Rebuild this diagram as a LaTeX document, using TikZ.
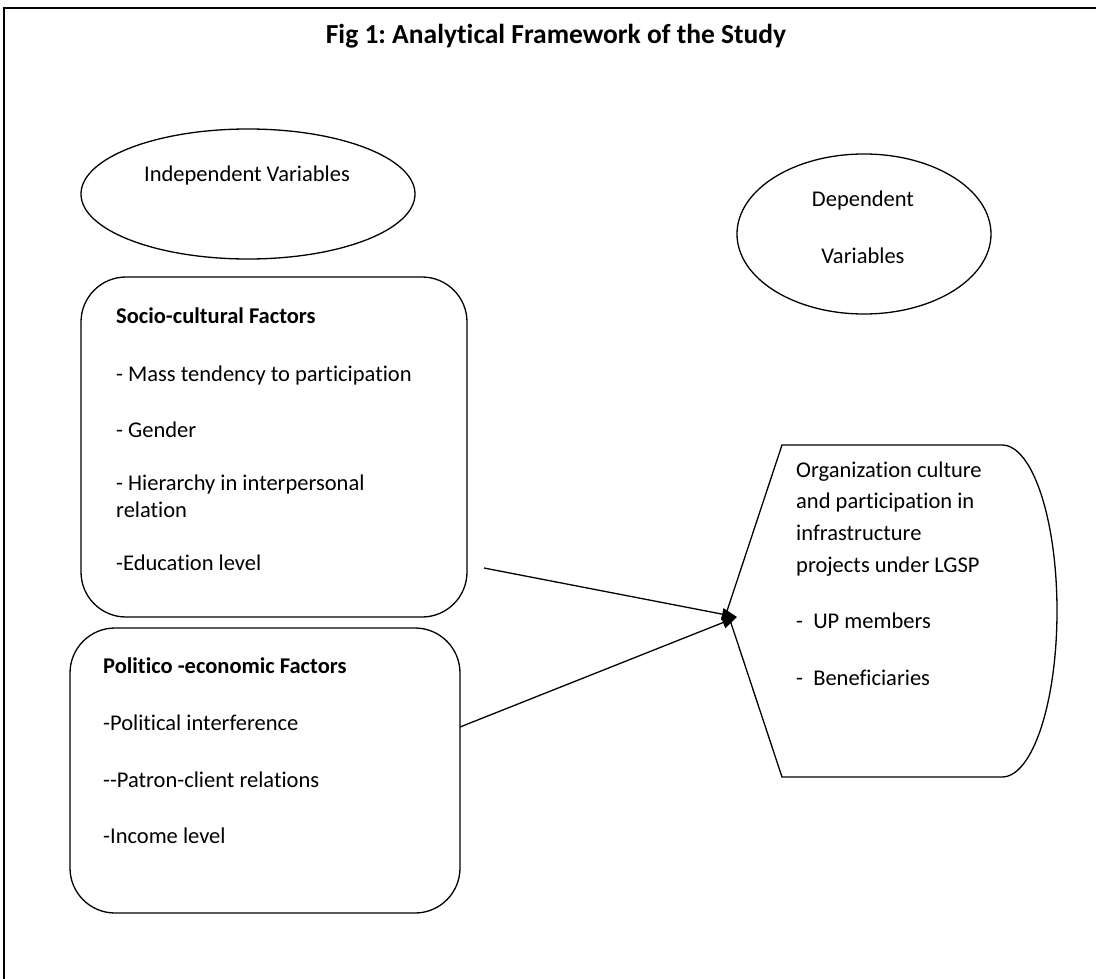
\documentclass[tikz,border=0pt]{standalone}
\usepackage{fontspec}
\setmainfont[Ligatures={NoCommon},RawFeature={-liga;-clig}]{Carlito}
\frenchspacing
\usetikzlibrary{shapes.geometric,arrows.meta}
\begin{document}
\begin{tikzpicture}[x=1pt,y=-1pt,
  txt/.style={anchor=base west, inner sep=0pt, font=\fontsize{22.5}{26}\selectfont},
  ctxt/.style={anchor=base, inner sep=0pt, font=\fontsize{22.5}{26}\selectfont},
  oval/.style={draw, ellipse, line width=1.3pt, inner sep=0pt},
  rbox/.style={draw, line width=1.3pt, rounded corners=45pt, inner sep=0pt},
  conn/.style={line width=1.3pt, -{Triangle[length=15pt,width=12pt]}}]
\useasboundingbox (0,0) rectangle (1096,979);
\draw[line width=1.6pt] (4,979) -- (4,8) -- (1096,8);
\node[anchor=base, inner sep=0pt, font=\fontsize{27.5}{32}\selectfont\bfseries] (title) at (556,44) {Fig 1: Analytical Framework of the Study};
% ellipses
\node[oval, minimum width=334pt, minimum height=130pt] (indep) at (248,194) {};
\node[ctxt] (indeptxt) at (247,182) {Independent Variables};
\node[oval, minimum width=254pt, minimum height=160pt] (dep) at (864,234) {};
\node[ctxt] (deptxt1) at (863,207) {Dependent};
\node[ctxt] (deptxt2) at (863,263) {Variables};
% socio-cultural box
\node[rbox, minimum width=386pt, minimum height=340pt] (socio) at (274,447) {};
\node[txt, font=\fontsize{22.5}{26}\selectfont\bfseries] (s0) at (116,323) {Socio-cultural Factors};
\node[txt] (s1) at (116,381) {- Mass tendency to participation};
\node[txt] (s2) at (116,437) {- Gender};
\node[txt] (s3) at (116,490) {- Hierarchy in interpersonal};
\node[txt] (s4) at (116,517) {relation};
\node[txt] (s5) at (116,570) {-Education level};
% politico-economic box
\node[rbox, minimum width=390pt, minimum height=285pt] (polit) at (265,770.5) {};
\node[txt, font=\fontsize{22.5}{26}\selectfont\bfseries] (p0) at (103,673) {Politico -economic Factors};
\node[txt] (p1) at (103,730) {-Political interference};
\node[txt] (p2) at (103,787) {-{}-Patron-client relations};
\node[txt] (p3) at (103,843) {-Income level};
% display shape
\draw[line width=1.3pt] (782,445) -- (1002,445)
  .. controls (1032.4,445) and (1057,519.3) .. (1057,611)
  .. controls (1057,702.7) and (1032.4,777) .. (1002,777)
  -- (782,777) -- (727,611) -- cycle;
\node[txt] (d1) at (796,477) {Organization culture};
\node[txt] (d2) at (796,508) {and participation in};
\node[txt] (d3) at (796,540) {infrastructure};
\node[txt] (d4) at (796,572) {projects under LGSP};
\node[txt] (d5) at (796,628) {-\ \ UP members};
\node[txt] (d6) at (796,685) {-\ \ Beneficiaries};
% connectors
\coordinate (dtip) at (737,617);
\coordinate (sstart) at (484,568);
\coordinate (pstart) at (460,727);
\draw[conn] (sstart) -- (dtip);
\draw[conn] (pstart) -- (dtip);
\end{tikzpicture}
\end{document}
